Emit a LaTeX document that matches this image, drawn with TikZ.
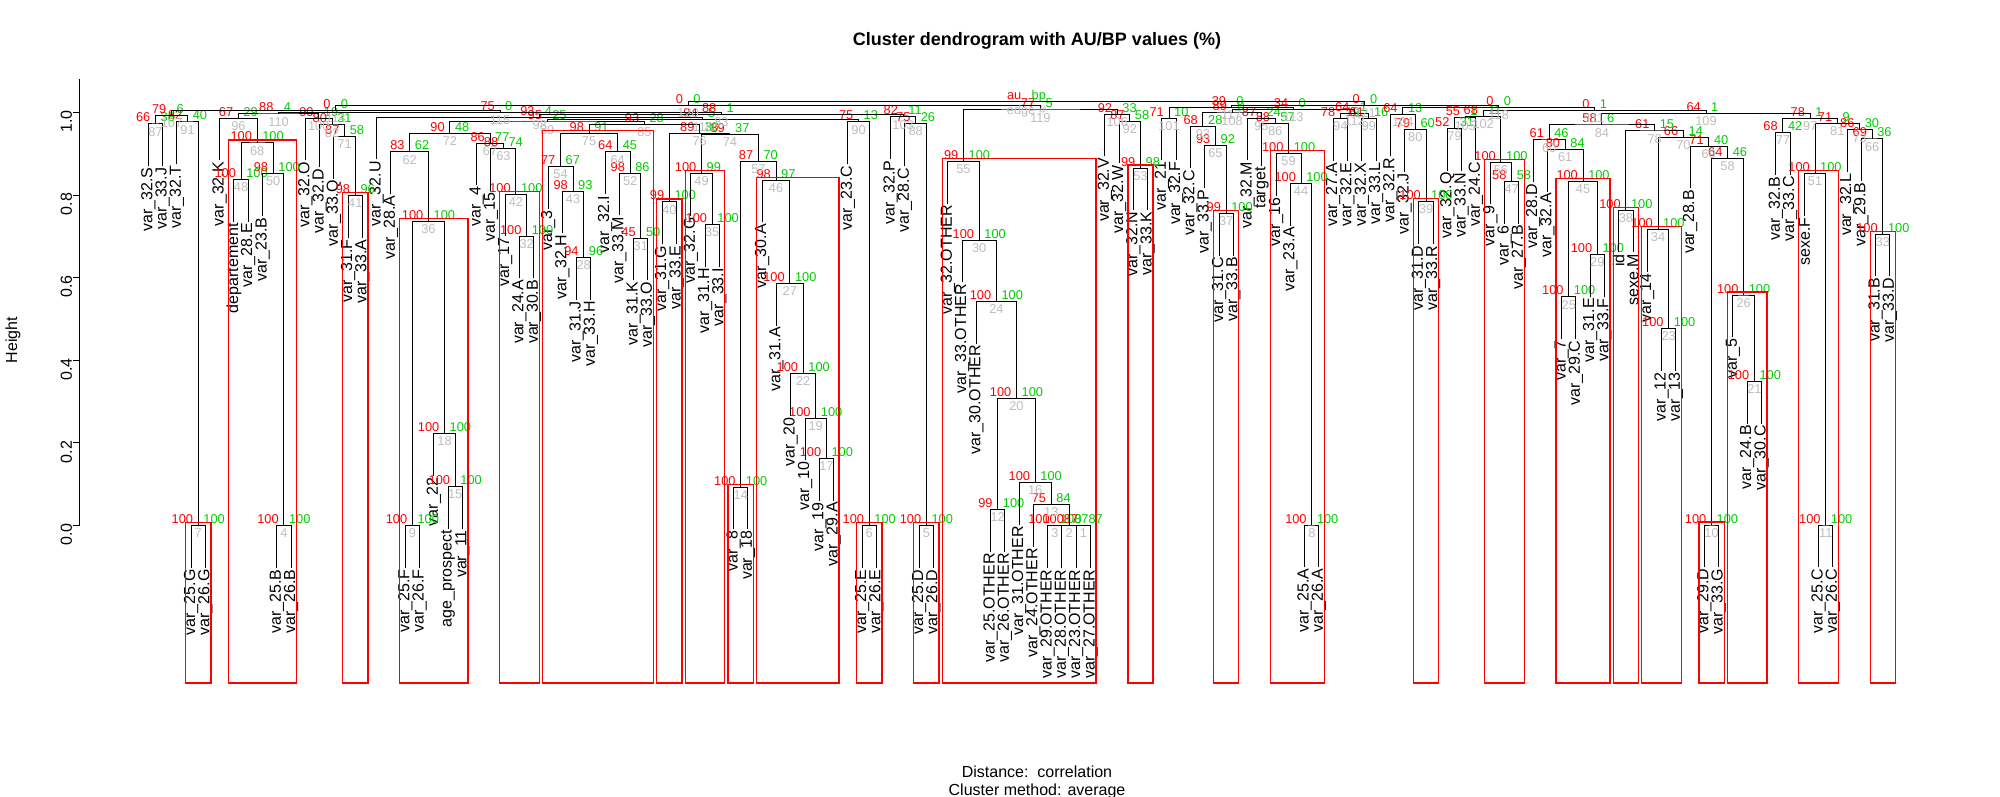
\documentclass[tikz,border=0pt]{standalone}
\usepackage{fontspec}
\setmainfont{Liberation Sans}
\usetikzlibrary{calc}
\definecolor{aured}{RGB}{255,0,0}
\definecolor{bpgreen}{RGB}{0,205,0}
\definecolor{edgegray}{RGB}{190,190,190}

% name, left child, right child, bar height (px from top), au, bp, edge
\newcommand\mrg[7]{%
  \path let \p1=(#2), \p2=(#3) in ({0.5*\x1+0.5*\x2},-#4pt) coordinate (#1);
  \draw[treeline] (#2) |- (#1) -| (#3);
  \node[aulab] at (#1) {#5};
  \node[bplab] at (#1) {#6};
  \node[edgelab] at (#1) {#7};}
\newcommand\pvbox[3]{%
  \draw[redbox] let \p1=(L#1), \p2=(L#2), \p3=(#3) in
    (\x1-5.5pt,-683pt) rectangle (\x2+5.5pt,\y3+3pt);}

\begin{document}
\begin{tikzpicture}[x=1pt,y=-1pt]

	\tikzset{
		treeline/.style={line width=1pt,black},
		redbox/.style={draw=aured,line width=1.3pt},
		aulab/.style={text=aured,anchor=base east,inner sep=0pt,xshift=-5pt,yshift=2pt,
			font=\fontsize{12.8}{13}\selectfont},
		bplab/.style={text=bpgreen,anchor=base west,inner sep=0pt,xshift=5pt,yshift=2pt,
			font=\fontsize{12.8}{13}\selectfont},
		edgelab/.style={text=edgegray,anchor=north,inner sep=0pt,yshift=-3pt,
			font=\fontsize{12.8}{13}\selectfont},
		leaflab/.style={rotate=90,anchor=east,inner sep=1.5pt,
			font=\fontsize{16}{16}\selectfont},
		axislab/.style={font=\fontsize{16}{16}\selectfont},
	}

	\fill[white] (0,0) rectangle (2000,797);
	\useasboundingbox (0,0) rectangle (2000,797);

	\node[font=\bfseries\fontsize{18}{18}\selectfont] (title) at (1037,41)
		{Cluster dendrogram with AU/BP values (\%)};
	\node[axislab] (dist) at (1037,772) {Distance:\ \ correlation};
	\node[axislab] (meth) at (1037,791) {Cluster method: average};
	\node[axislab,rotate=90] (ylab) at (13,340) {Height};

	\draw[treeline] (79.5,525.5) -- (79.5,79.5);
	\foreach \h/\t in {0/0.0,0.2/0.2,0.4/0.4,0.6/0.6,0.8/0.8,1/1.0}
		\draw[treeline] (79.5,{525.5-413*\h}) -- ++(-7,0)
			node[axislab,rotate=90,anchor=south,inner sep=0pt,xshift=-9pt] {\t};

	\foreach \i/\lab/\yb in {
		1/var\_32.S/166, 2/var\_33.J/166, 3/var\_32.T/164, 4/var\_25.G/567.8, 5/var\_26.G/567.8,
		6/var\_32.K/160.3, 7/departement/221.6, 8/var\_28.E/221.6, 9/var\_23.B/215.8, 10/var\_25.B/567.8,
		11/var\_26.B/567.8, 12/var\_32.O/160.3, 13/var\_32.D/167, 14/var\_33.Q/178.5, 15/var\_31.F/237.8,
		16/var\_33.A/237.8, 17/var\_32.U/159.5, 18/var\_28.A/193.9, 19/var\_25.F/567.8, 20/var\_26.F/567.8,
		21/var\_22/475.5, 22/age\_prospect/528.5, 23/var\_11/528.5, 24/var\_4/185.1, 25/var\_15/190.8,
		26/var\_17/236.2, 27/var\_24.A/278.2, 28/var\_30.B/278.2, 29/var\_3/208.9, 30/var\_32.H/233.2,
		31/var\_31.J/299.7, 32/var\_33.H/299.7, 33/var\_32.I/193.9, 34/var\_33.M/215.1, 35/var\_31.K/280.1,
		36/var\_33.O/280.1, 37/var\_31.G/243.9, 38/var\_33.E/243.9, 39/var\_32.G/215.8, 40/var\_31.H/266.6,
		41/var\_33.I/266.6, 42/var\_8/529.3, 43/var\_18/529.3, 44/var\_30.A/222.4, 45/var\_31.A/325.5,
		46/var\_20/415.8, 47/var\_10/460.1, 48/var\_19/500.5, 49/var\_29.A/500.5, 50/var\_23.C/163.9,
		51/var\_25.E/567.8, 52/var\_26.E/567.8, 53/var\_32.P/158.9, 54/var\_28.C/165.8, 55/var\_25.D/567.8,
		56/var\_26.D/567.8, 57/var\_32.OTHER/203.5, 58/var\_33.OTHER/282.4, 59/var\_30.OTHER/343.5,
		60/var\_25.OTHER/551.6, 61/var\_26.OTHER/551.6, 62/var\_31.OTHER/524.7, 63/var\_24.OTHER/546.6,
		64/var\_29.OTHER/567.8, 65/var\_28.OTHER/567.8, 66/var\_23.OTHER/567.8, 67/var\_27.OTHER/567.8,
		68/var\_32.V/156.2, 69/var\_32.W/163.2, 70/var\_32.N/210.1, 71/var\_33.K/210.1, 72/var\_21/160.1,
		73/var\_32.F/160.1, 74/var\_32.C/168.5, 75/var\_33.P/187.8, 76/var\_31.C/255.5, 77/var\_33.B/255.5,
		78/var\_32.M/160.1, 79/target/165.8, 80/var\_16/195.5, 81/var\_23.A/225.5, 82/var\_25.A/567,
		83/var\_26.A/567, 84/var\_27.A/160.8, 85/var\_32.E/160.8, 86/var\_32.X/160.8, 87/var\_33.L/160.8,
		88/var\_32.R/156.2, 89/var\_32.J/171.6, 90/var\_31.D/243.8, 91/var\_33.R/243.8, 92/var\_32.Q/170.8,
		93/var\_33.N/170.8, 94/var\_24.C/160, 95/var\_9/204.3, 96/var\_6/223.5, 97/var\_27.B/223.5,
		98/var\_28.D/182, 99/var\_32.A/191.6, 100/var\_7/338.9, 101/var\_29.C/338.9, 102/var\_31.E/296.6,
		103/var\_33.F/296.6, 104/id/252.4, 105/sexe.M/252.4, 106/var\_14/271.6, 107/var\_12/370.5,
		108/var\_13/370.5, 109/var\_28.B/188.2, 110/var\_29.D/567, 111/var\_33.G/567, 112/var\_5/337,
		113/var\_24.B/423.5, 114/var\_30.C/423.5, 115/var\_32.B/174.7, 116/var\_33.C/174.7, 117/sexe.F/215.8,
		118/var\_25.C/567, 119/var\_26.C/567, 120/var\_32.L/172, 121/var\_29.B/181, 122/var\_31.B/276.2,
		123/var\_33.D/276.2}
	{
		\coordinate (L\i) at ({148.3+14.276*(\i-1)},\yb);
		\node[leaflab] at (L\i) {\lab};
	}

	\mrg{m87}{L1}{L2}{124}{66}{38}{87}
	\mrg{m7}{L4}{L5}{525.8}{100}{100}{7}
	\mrg{m91}{L3}{m7}{122}{82}{40}{91}
	\mrg{m107}{m87}{m91}{115.5}{79}{6}{107}
	\mrg{m48}{L7}{L8}{179.6}{100}{100}{48}
	\mrg{m4}{L10}{L11}{525.8}{100}{100}{4}
	\mrg{m50}{L9}{m4}{173.8}{98}{100}{50}
	\mrg{m68}{m48}{m50}{143}{100}{100}{68}
	\mrg{m96}{L6}{m68}{118.3}{67}{29}{96}
	\mrg{m41}{L15}{L16}{195.8}{98}{96}{41}
	\mrg{m71}{L14}{m41}{136.5}{87}{58}{71}
	\mrg{m82}{L13}{m71}{125}{80}{31}{82}
	\mrg{m100}{L12}{m82}{118.3}{90}{19}{100}
	\mrg{m110}{m96}{m100}{114}{88}{4}{110}
	\mrg{m9}{L19}{L20}{525.8}{100}{100}{9}
	\mrg{m15}{L22}{L23}{486.5}{100}{100}{15}
	\mrg{m18}{L21}{m15}{433.5}{100}{100}{18}
	\mrg{m36}{m9}{m18}{221.2}{100}{100}{36}
	\mrg{m62}{L18}{m36}{151.9}{83}{62}{62}
	\mrg{m32}{L27}{L28}{236.2}{100}{100}{32}
	\mrg{m42}{L26}{m32}{194.2}{100}{100}{42}
	\mrg{m63}{L25}{m42}{148.8}{88}{74}{63}
	\mrg{m67}{L24}{m63}{143.1}{86}{77}{67}
	\mrg{m72}{m62}{m67}{133.5}{90}{48}{72}
	\mrg{m28}{L31}{L32}{257.7}{94}{96}{28}
	\mrg{m43}{L30}{m28}{191.2}{98}{93}{43}
	\mrg{m54}{L29}{m43}{166.9}{77}{67}{54}
	\mrg{m31}{L35}{L36}{238.1}{45}{50}{31}
	\mrg{m52}{L34}{m31}{173.1}{98}{86}{52}
	\mrg{m64}{L33}{m52}{151.9}{64}{45}{64}
	\mrg{m75}{m54}{m64}{133.5}{98}{91}{75}
	\mrg{m40}{L37}{L38}{201.9}{99}{100}{40}
	\mrg{m35}{L40}{L41}{224.6}{100}{100}{35}
	\mrg{m49}{L39}{m35}{173.8}{100}{99}{49}
	\mrg{m14}{L42}{L43}{487.3}{100}{100}{14}
	\mrg{m17}{L48}{L49}{458.5}{100}{100}{17}
	\mrg{m19}{L47}{m17}{418.1}{100}{100}{19}
	\mrg{m22}{L46}{m19}{373.8}{100}{100}{22}
	\mrg{m27}{L45}{m22}{283.5}{100}{100}{27}
	\mrg{m46}{L44}{m27}{180.4}{98}{97}{46}
	\mrg{m57}{m14}{m46}{161.2}{87}{70}{57}
	\mrg{m74}{m49}{m57}{134.2}{89}{37}{74}
	\mrg{m76}{m40}{m74}{133.3}{89}{30}{76}
	\mrg{m85}{m75}{m76}{124.5}{93}{28}{85}
	\mrg{m89}{m72}{m85}{122}{95}{25}{89}
	\mrg{m6}{L51}{L52}{525.8}{100}{100}{6}
	\mrg{m90}{L50}{m6}{121.9}{75}{13}{90}
	\mrg{m116}{m89}{m90}{119.5}{94}{5}{116}
	\mrg{m98}{L17}{m116}{117.5}{93}{4}{98}
	\mrg{m5}{L55}{L56}{525.8}{100}{100}{5}
	\mrg{m88}{L54}{m5}{123.8}{75}{26}{88}
	\mrg{m103}{L53}{m88}{116.9}{82}{11}{103}
	\mrg{m83}{m98}{m103}{114.5}{88}{1}{83}
	\mrg{m115}{m110}{m83}{112.5}{75}{0}{115}
	\mrg{m114}{m107}{m115}{110.5}{0}{0}{114}
	\mrg{m12}{L60}{L61}{509.6}{99}{100}{12}
	\mrg{m3}{L64}{L65}{525.8}{100}{100}{3}
	\mrg{m1}{L66}{L67}{525.8}{87}{87}{1}
	\mrg{m2}{m3}{m1}{525.8}{100}{87}{2}
	\mrg{m13}{L63}{m2}{504.6}{75}{84}{13}
	\mrg{m16}{L62}{m13}{482.7}{100}{100}{16}
	\mrg{m20}{m12}{m16}{398.1}{100}{100}{20}
	\mrg{m24}{L59}{m20}{301.5}{100}{100}{24}
	\mrg{m30}{L58}{m24}{240.4}{100}{100}{30}
	\mrg{m55}{L57}{m30}{161.5}{99}{100}{55}
	\mrg{m53}{L70}{L71}{168.1}{99}{98}{53}
	\mrg{m92}{L69}{m53}{121.2}{87}{58}{92}
	\mrg{m106}{L68}{m92}{114.2}{92}{33}{106}
	\mrg{m119}{m55}{m106}{110}{77}{5}{119}
	\mrg{m120}{m114}{m119}{105.5}{0}{0}{120}
	\mrg{m101}{L72}{L73}{118.1}{71}{10}{101}
	\mrg{m37}{L76}{L77}{213.5}{99}{100}{37}
	\mrg{m65}{L75}{m37}{145.8}{93}{92}{65}
	\mrg{m93}{L74}{m65}{126.5}{68}{28}{93}
	\mrg{m8}{L82}{L83}{525}{100}{100}{8}
	\mrg{m44}{L81}{m8}{183.5}{100}{100}{44}
	\mrg{m59}{L80}{m44}{153.5}{100}{100}{59}
	\mrg{m86}{L79}{m59}{123.8}{88}{57}{86}
	\mrg{m95}{L78}{m86}{118.1}{87}{24}{95}
	\mrg{m108}{m93}{m95}{113}{89}{0}{108}
	\mrg{m94}{L84}{L85}{118.8}{78}{19}{94}
	\mrg{m99}{L86}{L87}{118.8}{61}{16}{99}
	\mrg{m112}{m94}{m99}{113.5}{64}{1}{112}
	\mrg{m113}{m108}{m112}{109.5}{34}{0}{113}
	\mrg{m117}{m101}{m113}{107.5}{39}{0}{117}
	\mrg{m39}{L90}{L91}{201.8}{100}{100}{39}
	\mrg{m80}{L89}{m39}{129.6}{79}{60}{80}
	\mrg{m104}{L88}{m80}{114.2}{64}{13}{104}
	\mrg{m79}{L92}{L93}{128.8}{52}{31}{79}
	\mrg{m105}{m79}{L94}{118}{55}{1}{105}
	\mrg{m47}{L96}{L97}{181.5}{58}{58}{47}
	\mrg{m56}{L95}{m47}{162.3}{100}{100}{56}
	\mrg{m102}{m105}{m56}{116.7}{68}{11}{102}
	\mrg{m25}{L100}{L101}{296.9}{100}{100}{25}
	\mrg{m29}{L102}{L103}{254.6}{100}{100}{29}
	\mrg{m45}{m25}{m29}{181.5}{100}{100}{45}
	\mrg{m61}{L99}{m45}{149.6}{80}{84}{61}
	\mrg{m60}{L98}{m61}{140}{61}{46}{60}
	\mrg{m38}{L104}{L105}{210.4}{100}{100}{38}
	\mrg{m23}{L107}{L108}{328.5}{100}{100}{23}
	\mrg{m34}{L106}{m23}{229.6}{100}{100}{34}
	\mrg{m10}{L110}{L111}{525}{100}{100}{10}
	\mrg{m21}{L113}{L114}{381.5}{100}{100}{21}
	\mrg{m26}{L112}{m21}{295}{100}{100}{26}
	\mrg{m58}{m10}{m26}{158.5}{64}{46}{58}
	\mrg{m69}{L109}{m58}{146.2}{71}{40}{69}
	\mrg{m70}{m34}{m69}{137.3}{66}{14}{70}
	\mrg{m78}{m38}{m70}{131}{61}{15}{78}
	\mrg{m84}{m60}{m78}{125}{58}{6}{84}
	\mrg{m77}{L115}{L116}{132.7}{68}{42}{77}
	\mrg{m11}{L118}{L119}{525}{100}{100}{11}
	\mrg{m51}{L117}{m11}{173.8}{100}{100}{51}
	\mrg{m33}{L122}{L123}{234.2}{100}{100}{33}
	\mrg{m66}{L121}{m33}{139}{69}{36}{66}
	\mrg{m73}{L120}{m66}{130}{86}{30}{73}
	\mrg{m81}{m51}{m73}{123.3}{71}{9}{81}
	\mrg{m97}{m77}{m81}{118.3}{78}{1}{97}
	\mrg{m109}{m84}{m97}{113.3}{64}{1}{109}
	\mrg{m111}{m102}{m109}{110.7}{0}{1}{111}
	\mrg{m118}{m104}{m111}{107.5}{0}{0}{118}
	\mrg{m121}{m117}{m118}{105.5}{0}{0}{121}
	\mrg{root}{m120}{m121}{101.7}{au}{bp}{edge \#}

	\pvbox{4}{5}{m7}
	\pvbox{7}{11}{m68}
	\pvbox{15}{16}{m41}
	\pvbox{19}{23}{m36}
	\pvbox{26}{28}{m42}
	\pvbox{29}{36}{m75}
	\pvbox{37}{38}{m40}
	\pvbox{39}{41}{m49}
	\pvbox{42}{43}{m14}
	\pvbox{44}{49}{m46}
	\pvbox{51}{52}{m6}
	\pvbox{55}{56}{m5}
	\pvbox{57}{67}{m55}
	\pvbox{70}{71}{m53}
	\pvbox{76}{77}{m37}
	\pvbox{80}{83}{m59}
	\pvbox{90}{91}{m39}
	\pvbox{95}{97}{m56}
	\pvbox{100}{103}{m45}
	\pvbox{104}{105}{m38}
	\pvbox{106}{108}{m34}
	\pvbox{110}{111}{m10}
	\pvbox{112}{114}{m26}
	\pvbox{117}{119}{m51}
	\pvbox{122}{123}{m33}

\end{tikzpicture}
\end{document}
